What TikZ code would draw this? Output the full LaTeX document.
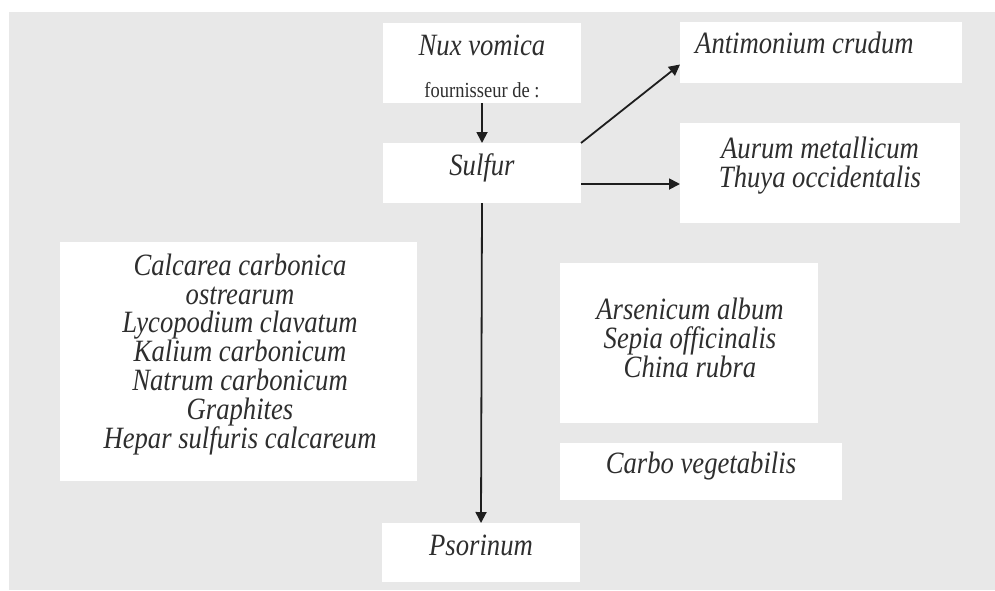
\documentclass[tikz,border=0pt]{standalone}
\usepackage{fontspec}
\setmainfont{Liberation Serif}
\newfontfamily\narrowserif[FakeStretch=0.86]{Liberation Serif}
\usetikzlibrary{arrows.meta,calc}
\definecolor{bgG}{HTML}{E8E8E8}
\definecolor{txtG}{HTML}{2E2E2E}
\definecolor{arrG}{HTML}{1E1E1E}
\tikzset{
  box/.style={fill=white, draw=none, inner sep=0pt, outer sep=0pt},
  txt/.style={font=\narrowserif\fontsize{31}{28.8}\selectfont\itshape, align=center, text=txtG, inner sep=0pt, anchor=base},
  small/.style={font=\narrowserif\fontsize{21.5}{24}\selectfont, text=txtG, inner sep=0pt, anchor=base},
  conn/.style={draw=arrG, line width=1.8pt, -{Triangle[length=11pt,width=11pt]}}
}
\begin{document}
\begin{tikzpicture}[x=1pt,y=-1pt]
\useasboundingbox (0,0) rectangle (995,590);
\fill[white] (0,0) rectangle (995,590);
\fill[bgG] (9,12) rectangle (995,590);

\node[box, minimum width=198pt, minimum height=80pt] (nux) at (482,63) {};
\node[box, minimum width=198pt, minimum height=60pt] (sulfur) at (482,173) {};
\node[box, minimum width=282pt, minimum height=61pt] (ant) at (821,52.5) {};
\node[box, minimum width=280pt, minimum height=100pt] (aur) at (820,173) {};
\node[box, minimum width=357pt, minimum height=239pt] (calc) at (238.5,361.5) {};
\node[box, minimum width=258pt, minimum height=160pt] (ars) at (689,343) {};
\node[box, minimum width=282pt, minimum height=57pt] (carbo) at (701,471.5) {};
\node[box, minimum width=198pt, minimum height=59pt] (psor) at (481,552.5) {};

\node[txt] (tnux) at (482,55) {Nux vomica};
\node[small] (tfour) at (482,97) {fournisseur de :};
\node[txt] (tsulf) at (482,175) {Sulfur};
\node[txt, anchor=base west] (tant) at (695,53) {Antimonium crudum};
\node[txt] (taur) at (820,187) {Aurum metallicum\\Thuya occidentalis};
\node[txt] (tcalc) at (240,448) {Calcarea carbonica\\ostrearum\\Lycopodium clavatum\\Kalium carbonicum\\Natrum carbonicum\\Graphites\\Hepar sulfuris calcareum};
\node[txt] (tars) at (690,377) {Arsenicum album\\Sepia officinalis\\China rubra};
\node[txt] (tcarbo) at (701,473) {Carbo vegetabilis};
\node[txt] (tpsor) at (481,555) {Psorinum};

\draw[conn] (nux.south) -- (sulfur.north);
\draw[conn] (sulfur.south) -- (psor.north);
\draw[conn] (sulfur.north east) -- ($(ant.west)+(0,12)$);
\draw[conn] ($(sulfur.east)+(0,11)$) -- ($(aur.west)+(0,11)$);
\end{tikzpicture}
\end{document}
